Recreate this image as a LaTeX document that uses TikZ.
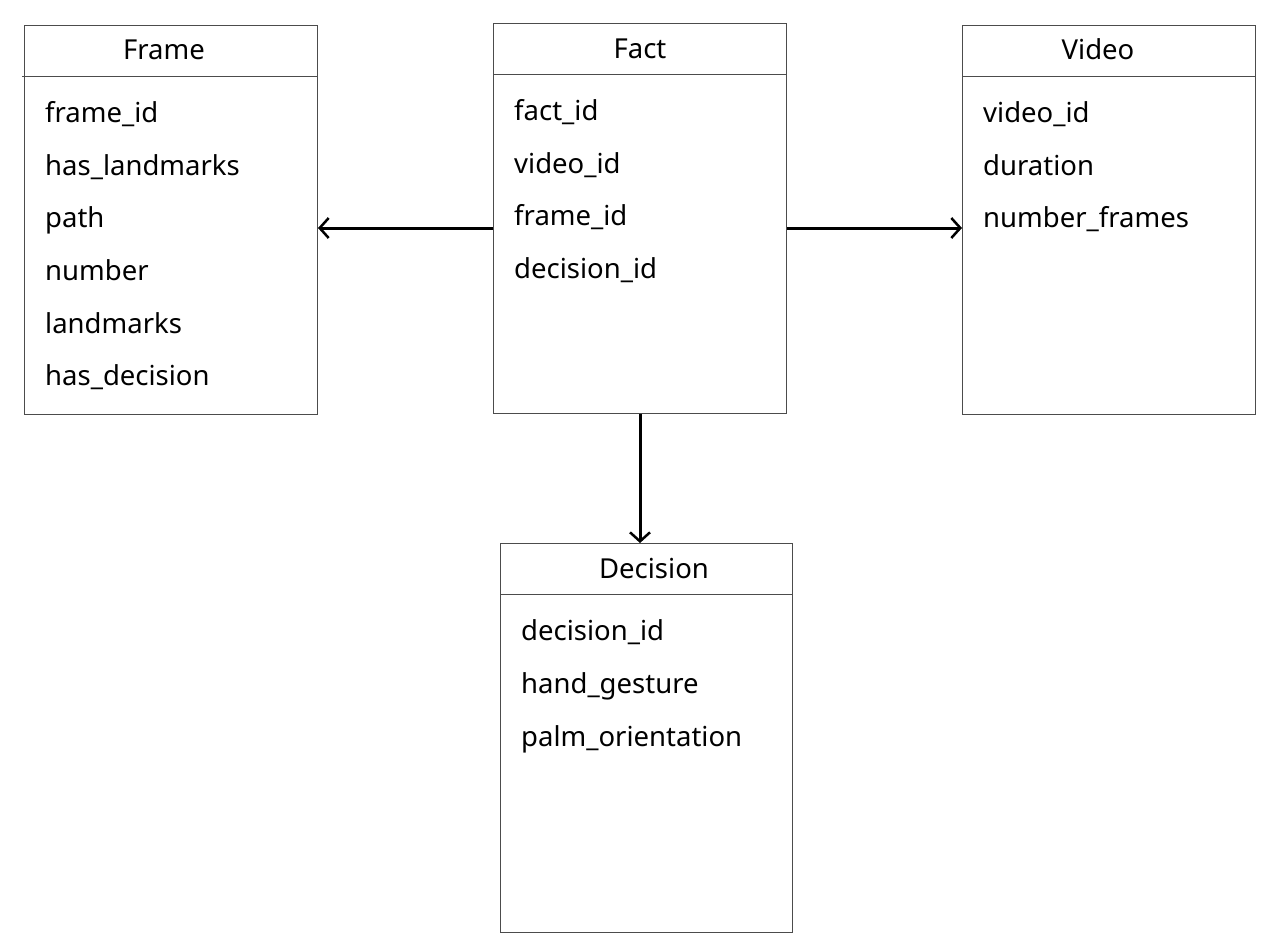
\documentclass[tikz,border=0pt]{standalone}
\usepackage{fontspec}
\setmainfont{Noto Sans}
\usetikzlibrary{arrows.meta}
\begin{document}
\begin{tikzpicture}[x=1pt,y=-1pt,
  tbl/.style={draw=black!70,line width=1pt,minimum width=293pt,inner sep=0pt,anchor=north west,fill=white},
  hdr/.style={draw=black!70,line width=1pt},
  ttl/.style={font=\fontsize{27.5}{32}\selectfont,anchor=base,inner sep=0pt},
  fld/.style={font=\fontsize{27.5}{32}\selectfont,anchor=base west,inner sep=0pt},
  conn/.style={line width=3pt,-{Straight Barb[length=9pt,width=20pt,line width=2.5pt]}}]
\useasboundingbox (0,0) rectangle (1282,946);
% Frame
\node[tbl,minimum height=389pt] (frame) at (24,25) {};
\draw[hdr] (22,76) -- (frame.east |- 0,76);
\node[ttl] (frameT) at (164,59) {Frame};
\node[fld] (f1) at (45,122) {frame\_id};
\node[fld] (f2) at (45,175) {has\_landmarks};
\node[fld] (f3) at (45,227) {path};
\node[fld] (f4) at (45,280) {number};
\node[fld] (f5) at (45,333) {landmarks};
\node[fld] (f6) at (45,385) {has\_decision};
% Fact
\node[tbl,minimum height=390pt] (fact) at (493,23) {};
\draw[hdr] (493,74) -- (786,74);
\node[ttl] (factT) at (640,58) {Fact};
\node[fld] (g1) at (514,120) {fact\_id};
\node[fld] (g2) at (514,173) {video\_id};
\node[fld] (g3) at (514,225) {frame\_id};
\node[fld] (g4) at (514,278) {decision\_id};
% Video
\node[tbl,minimum height=389pt] (video) at (962,25) {};
\draw[hdr] (962,76) -- (1255,76);
\node[ttl] (videoT) at (1098,59) {Video};
\node[fld] (v1) at (983,122) {video\_id};
\node[fld] (v2) at (983,175) {duration};
\node[fld] (v3) at (983,227) {number\_frames};
% Decision
\node[tbl,minimum width=292pt,minimum height=389pt] (decision) at (500,543) {};
\draw[hdr] (500,594) -- (792,594);
\node[ttl] (decisionT) at (654,578) {Decision};
\node[fld] (d1) at (521,640) {decision\_id};
\node[fld] (d2) at (521,693) {hand\_gesture};
\node[fld] (d3) at (521,746) {palm\_orientation};
% connectors
\draw[conn] (fact.west |- 0,228) -- (frame.east |- 0,228);
\draw[conn] (fact.east |- 0,228) -- (video.west |- 0,228);
\draw[conn] (fact.south -| 640,0) -- (decision.north -| 640,0);
\end{tikzpicture}
\end{document}
